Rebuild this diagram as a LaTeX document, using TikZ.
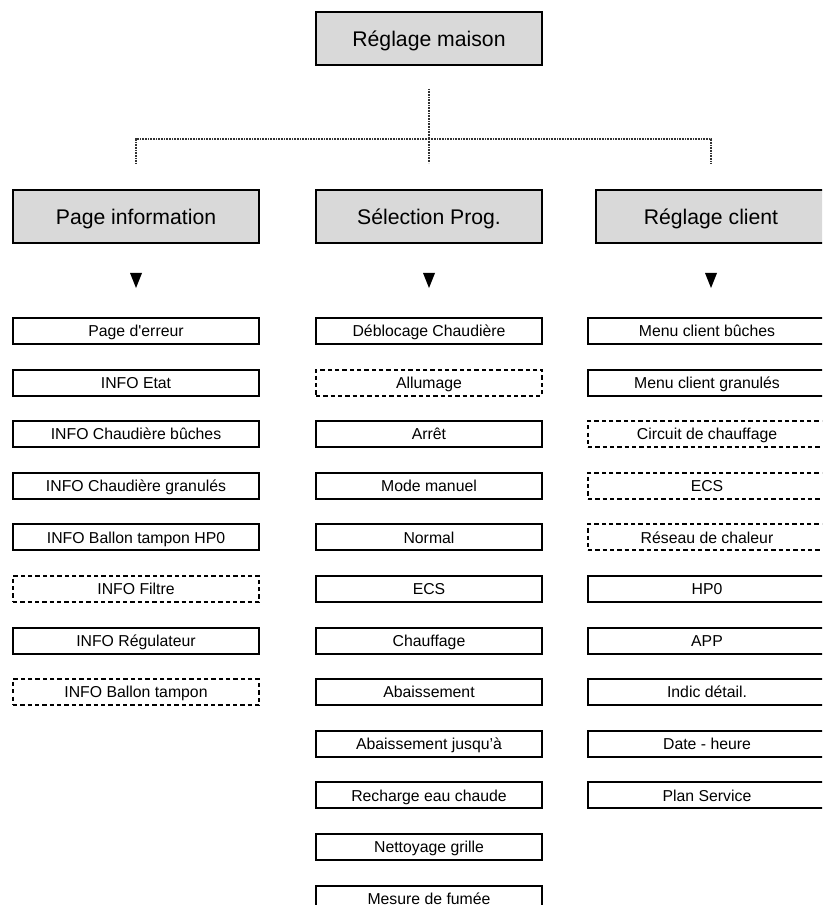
\documentclass[tikz,border=0pt]{standalone}
\usepackage{fontspec}
\setmainfont{Liberation Sans}[Ligatures=TeXOff]
\definecolor{boxgray}{HTML}{D9D9D9}

\tikzset{
	head/.style={draw, line width=1.5pt, fill=boxgray, minimum height=39.75pt, inner sep=0pt, text height=11.4pt, text depth=0pt, font=\fontsize{15.9}{18}\selectfont},
	item/.style={draw, line width=1.5pt, minimum height=19.5pt, inner sep=0pt, text height=8.5pt, text depth=0pt, font=\fontsize{11.85}{14}\selectfont},
	itemd/.style={item, dash pattern=on 3.2pt off 2.3pt},
	link/.style={black!80, line width=1.6pt, dash pattern=on 0.75pt off 0.45pt},
}

\begin{document}
\begin{tikzpicture}[x=0.75pt, y=-0.75pt]
	\clip (0,0) rectangle (822,905);
	\def\colL{136}
	\def\colM{429}
	\def\colR{711}
	\def\rowA{331}
	\def\dy{51.6}

	% top and second level
	\node[head, minimum width=169.5pt] (maison) at (\colM,38.5) {Réglage maison};
	\node[head, minimum width=184.5pt] (pinfo) at (\colL,216.5) {Page information};
	\node[head, minimum width=169.5pt] (psel) at (\colM,216.5) {Sélection Prog.};
	\node[head, minimum width=172.5pt] (pclient) at (\colR,216.5) {Réglage client};

	\coordinate (hub) at (\colM,139);
	\draw[link, shorten <=17.25pt]	(maison.south) -- (hub);
	\draw[link, shorten >=19.5pt]	(hub) -| (pinfo.north);
	\draw[link, shorten >=19.5pt]	(hub) -- (psel.north);
	\draw[link, shorten >=19.5pt]	(hub) -| (pclient.north);

	\foreach \p in {pinfo, psel, pclient}
		\fill ([shift={(-6,29)}]\p.south) -- ++(12,0) -- ++(-6,15) -- cycle;

	% lists
	\foreach \t/\s [count=\i from 0] in {Page d'erreur/item, INFO Etat/item, INFO Chaudière bûches/item, INFO Chaudière granulés/item, INFO Ballon tampon HP0/item, INFO Filtre/itemd, INFO Régulateur/item, INFO Ballon tampon/itemd}
		\node[\s, minimum width=184.5pt] (l\i) at (\colL,{\rowA+\dy*\i}) {\t};

	\foreach \t/\s [count=\i from 0] in {Déblocage Chaudière/item, Allumage/itemd, Arrêt/item, Mode manuel/item, Normal/item, ECS/item, Chauffage/item, Abaissement/item, Abaissement jusqu’à/item, Recharge eau chaude/item, Nettoyage grille/item, Mesure de fumée/item}
		\node[\s, minimum width=169.5pt] (m\i) at (\colM,{\rowA+\dy*\i}) {\t};

	\foreach \t/\s [count=\i from 0] in {Menu client bûches/item, Menu client granulés/item, Circuit de chauffage/itemd, ECS/itemd, Réseau de chaleur/itemd, HP0/item, APP/item, Indic détail./item, Date - heure/item, Plan Service/item}
		\node[\s, minimum width=178.5pt] (r\i) at (707,{\rowA+\dy*\i}) {\t};
\end{tikzpicture}
\end{document}
